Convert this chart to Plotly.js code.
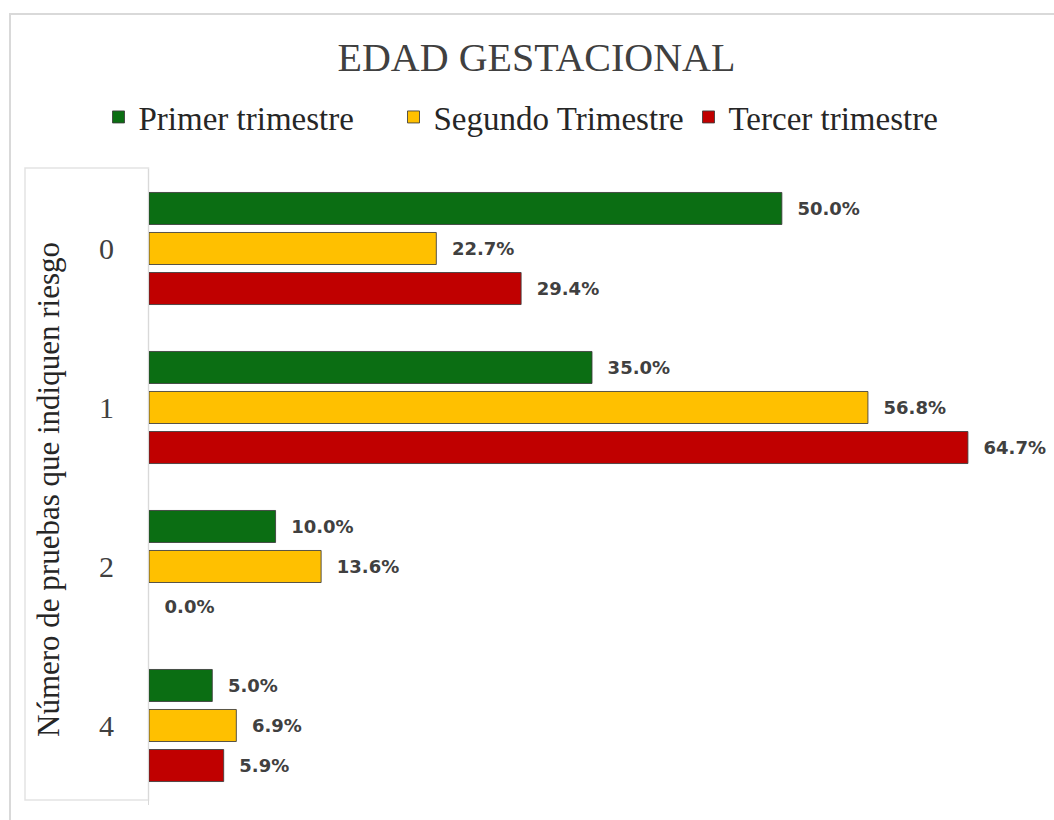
<!DOCTYPE html>
<html>
<head>
<meta charset="utf-8">
<script src="https://cdn.plot.ly/plotly-3.0.1.min.js"></script>
<style>
  html, body { margin: 0; padding: 0; background: #ffffff; }
  #chart { width: 1054px; height: 820px; }
</style>
</head>
<body>
<div id="chart"></div>
<script>
// ---- Data ----
const categories = ['0', '1', '2', '4'];
const seriesNames = ['Primer trimestre', 'Segundo Trimestre', 'Tercer trimestre'];
const primerTrimestre = [50.0, 35.0, 10.0, 5.0];
const segundoTrimestre = [22.7, 56.8, 13.6, 6.9];
const tercerTrimestre = [29.4, 64.7, 0.0, 5.9];
const chartTitle = 'EDAD GESTACIONAL';
const yAxisTitle = 'Número de pruebas que indiquen riesgo';

// ---- Styles ----
const colors = ['#0B6E13', '#FFC000', '#C00000'];
const serif = 'Liberation Serif, Times New Roman, serif';
const labelFont = { family: 'DejaVu Sans, Verdana, sans-serif', size: 18, color: '#404040', weight: 'bold' };

const seriesValues = [primerTrimestre, segundoTrimestre, tercerTrimestre];
const traces = seriesValues.map((vals, i) => ({
  type: 'bar',
  orientation: 'h',
  name: seriesNames[i],
  y: categories,
  x: vals,
  marker: {
    color: colors[i],
    line: { color: 'rgba(60,60,60,0.85)', width: vals.map(v => (v === 0 ? 0 : 1)) }
  },
  texttemplate: '\u2002\u2009%{x:.1f}%',
  textposition: 'outside',
  constraintext: 'none',
  cliponaxis: false,
  textfont: labelFont,
  hoverinfo: 'x+name'
}));

const L = 149, R = 19, T = 169, B = 15;
const plotW = 1054 - L - R, plotH = 820 - T - B;
const px2x = px => (px - L) / plotW;
const py2y = py => (820 - B - py) / plotH;

const layout = {
  width: 1054,
  height: 820,
  paper_bgcolor: '#ffffff',
  plot_bgcolor: '#ffffff',
  margin: { l: L, r: R, t: T, b: B, pad: 0 },
  barmode: 'group',
  bargap: 0.245,
  bargroupgap: 0.2,
  title: {
    text: chartTitle,
    font: { family: serif, size: 40, color: '#404040' },
    x: 0.509, xref: 'container', xanchor: 'center',
    y: 1 - 57 / 820, yref: 'container', yanchor: 'middle'
  },
  showlegend: true,
  legend: {
    orientation: 'h',
    xref: 'container', yref: 'container',
    x: 541 / 1054, xanchor: 'center',
    y: 1 - 117 / 820, yanchor: 'middle',
    font: { family: serif, size: 33, color: '#262626' },
    traceorder: 'normal',
    entrywidth: 250,
    entrywidthmode: 'pixels',
    bgcolor: 'rgba(0,0,0,0)'
  },
  xaxis: {
    range: [0, 70],
    showgrid: false,
    zeroline: false,
    showline: false,
    showticklabels: false,
    ticks: '',
    fixedrange: true
  },
  yaxis: {
    type: 'category',
    autorange: 'reversed',
    showgrid: false,
    zeroline: false,
    showline: true,
    linecolor: '#d9d9d9',
    linewidth: 1,
    ticks: '',
    ticklabelstandoff: 28,
    tickfont: { family: serif, size: 30, color: '#404040' },
    fixedrange: true
  },
  annotations: [{
    text: yAxisTitle,
    xref: 'paper', yref: 'paper',
    x: px2x(48), y: py2y(490),
    xanchor: 'center', yanchor: 'middle',
    textangle: -90,
    showarrow: false,
    font: { family: serif, size: 31, color: '#262626' }
  }],
  shapes: [
    { type: 'rect', xref: 'paper', yref: 'paper', layer: 'below',
      x0: px2x(10), x1: px2x(1100), y0: py2y(860), y1: py2y(14),
      line: { color: '#d9d9d9', width: 2 }, fillcolor: 'rgba(0,0,0,0)' },
    { type: 'rect', xref: 'paper', yref: 'paper', layer: 'below',
      x0: px2x(25), x1: px2x(148.5), y0: py2y(800), y1: py2y(168),
      line: { color: '#e3e3e3', width: 1.5 }, fillcolor: 'rgba(0,0,0,0)' }
  ]
};

Plotly.newPlot('chart', traces, layout, { displayModeBar: false, staticPlot: true });
</script>
</body>
</html>
